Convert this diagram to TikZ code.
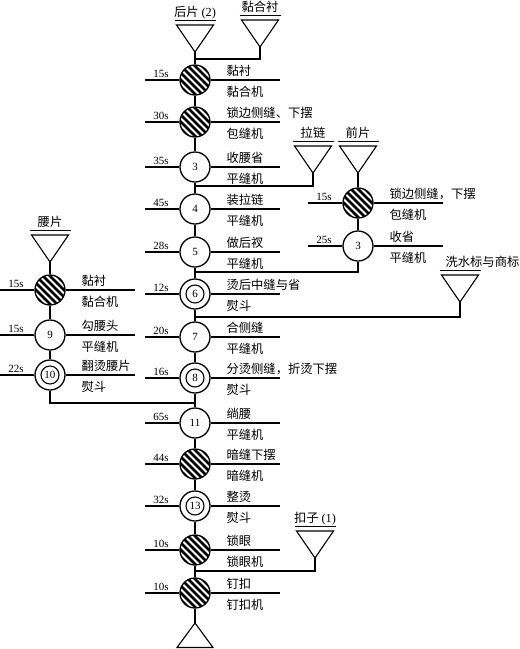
\documentclass[tikz,border=0pt]{standalone}
\usepackage{fontspec}
\setmainfont{Liberation Serif}
\newfontfamily\cjk{Noto Sans CJK SC}
\usetikzlibrary{calc}
\tikzset{
  proc/.style={circle, draw, line width=1.3pt, minimum size=30pt, inner sep=0pt,
    font=\fontsize{11}{11}\selectfont, fill=white},
  hatch/.style={proc, path picture={
    \foreach \i in {-28,-21,...,28}
      \draw[line width=2.8pt] ($(path picture bounding box.center)+(\i pt,0pt)+(-20pt,20pt)$) -- ++(40pt,-40pt);}},
  dbl/.style={proc, path picture={
    \draw[line width=1.1pt] (path picture bounding box.center) circle[radius=9pt];}},
  txt/.style={font=\cjk\fontsize{12.3}{12.3}\selectfont, inner sep=0pt},
  tlbl/.style={font=\fontsize{11}{11}\selectfont, inner sep=0pt},
  feedtri/.style={line width=1.1pt},
}
\newcommand\proc[8]{%
  \node[#4] (#1) at (#2,#3) {#5};
  \coordinate (#1-l) at ($(#1.center)+(-50,0)$);
  \coordinate (#1-r) at ($(#1.center)+(85,0)$);
  \draw (#1.west) -- (#1-l);
  \draw (#1.east) -- (#1-r);
  \node[tlbl, anchor=base] (#1-t) at ($(#1.center)+(-34,-3)$) {#6};
  \node[txt, anchor=base west] (#1-u) at ($(#1.center)+(31,-5)$) {#7};
  \node[txt, anchor=base west] (#1-d) at ($(#1.center)+(31,16)$) {#8};
}
\newcommand\feed[3]{%
  \coordinate (#1) at (#2,#3);
  \draw[feedtri] (#1) -- ++(-18.5,-27) -- ++(37,0) -- cycle;
  \draw[feedtri] ($(#1)+(-20.5,-31.5)$) -- ++(41,0);
}
\begin{document}
\begin{tikzpicture}[x=1pt, y=-1pt, line width=1.1pt]
\useasboundingbox (0,0) rectangle (520,649);

% feeding triangles
\feed{Thp}{195}{52}
\node[txt, anchor=base] (Thp-lab) at ($(Thp)+(0,-35.5)$) {后片~{\rmfamily (2)}};
\feed{Thc}{260}{47}
\node[txt, anchor=base] (Thc-lab) at ($(Thc)+(0,-35.5)$) {黏合衬};
\feed{Tll}{313}{173}
\node[txt, anchor=base] (Tll-lab) at ($(Tll)+(0,-35.5)$) {拉链};
\feed{Tqp}{358}{173}
\node[txt, anchor=base] (Tqp-lab) at ($(Tqp)+(0,-35.5)$) {前片};
\feed{Typ}{50}{262}
\node[txt, anchor=base] (Typ-lab) at ($(Typ)+(0,-35.5)$) {腰片};
\feed{Txs}{460}{302}
\node[txt, anchor=base west] (Txs-lab) at ($(Txs)+(-15,-35.5)$) {洗水标与商标};
\feed{Tkz}{315}{558}
\node[txt, anchor=base] (Tkz-lab) at ($(Tkz)+(0,-35.5)$) {扣子~{\rmfamily (1)}};
\coordinate (Tend) at (195,623);
\draw[feedtri] (Tend) -- (177,647.5) -- (213,647.5) -- cycle;

% junctions on the main line
\coordinate (j1) at (195,59);
\coordinate (j3) at (195,186);
\coordinate (j5) at (195,272);
\coordinate (j6) at (195,317);
\coordinate (j8) at (195,403);
\coordinate (j14) at (195,571);

% main line
\proc{c1}{195}{80}{hatch}{}{15s}{黏衬}{黏合机}
\proc{c2}{195}{122}{hatch}{}{30s}{锁边侧缝、下摆}{包缝机}
\proc{c3}{195}{167}{proc}{3}{35s}{收腰省}{平缝机}
\proc{c4}{195}{209}{proc}{4}{45s}{装拉链}{平缝机}
\proc{c5}{195}{252}{proc}{5}{28s}{做后衩}{平缝机}
\proc{c6}{195}{294}{dbl}{6}{12s}{烫后中缝与省}{熨斗}
\proc{c7}{195}{337}{proc}{7}{20s}{合侧缝}{平缝机}
\proc{c8}{195}{378}{dbl}{8}{16s}{分烫侧缝，折烫下摆}{熨斗}
\proc{c11}{195}{423}{proc}{11}{65s}{绱腰}{平缝机}
\proc{c12}{195}{464}{hatch}{}{44s}{暗缝下摆}{暗缝机}
\proc{c13}{195}{506}{dbl}{13}{32s}{整烫}{熨斗}
\proc{c14}{195}{550}{hatch}{}{10s}{锁眼}{锁眼机}
\proc{c15}{195}{593}{hatch}{}{10s}{钉扣}{钉扣机}

% left branch
\proc{L1}{50}{290}{hatch}{}{15s}{黏衬}{黏合机}
\proc{L9}{50}{335}{proc}{9}{15s}{勾腰头}{平缝机}
\proc{L10}{50}{375}{dbl}{10}{22s}{翻烫腰片}{熨斗}

% right branch
\proc{R1}{358}{203}{hatch}{}{15s}{锁边侧缝，下摆}{包缝机}
\proc{R3}{358}{246}{proc}{3}{25s}{收省}{平缝机}

% connectors
\draw (Thp) -- (c1.north);
\draw (Thc) |- (j1);
\draw (c1.south) -- (c2.north);
\draw (c2.south) -- (c3.north);
\draw (c3.south) -- (c4.north);
\draw (Tll) |- (j3);
\draw (c4.south) -- (c5.north);
\draw (c5.south) -- (c6.north);
\draw (Tqp) -- (R1.north);
\draw (R1.south) -- (R3.north);
\draw (R3.south) |- (j5);
\draw (c6.south) -- (c7.north);
\draw (Txs) |- (j6);
\draw (c7.south) -- (c8.north);
\draw (c8.south) -- (c11.north);
\draw (Typ) -- (L1.north);
\draw (L1.south) -- (L9.north);
\draw (L9.south) -- (L10.north);
\draw (L10.south) |- (j8);
\draw (c11.south) -- (c12.north);
\draw (c12.south) -- (c13.north);
\draw (c13.south) -- (c14.north);
\draw (c14.south) -- (c15.north);
\draw (Tkz) |- (j14);
\draw (c15.south) -- (Tend);
\end{tikzpicture}
\end{document}
